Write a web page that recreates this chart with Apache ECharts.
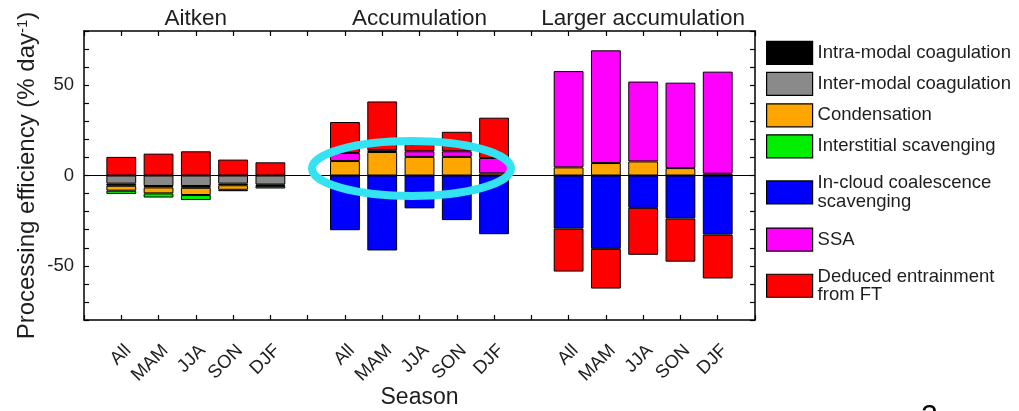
<!DOCTYPE html>
<html>
<head>
<meta charset="utf-8">
<script src="https://cdn.jsdelivr.net/npm/echarts@6/dist/echarts.min.js"></script>
<style>
html,body{margin:0;padding:0;background:#fff;}
#c{width:1019px;height:411px;}
</style>
</head>
<body>
<div id="c"></div>
<script>
// ---- data ----
const seasons = ['All', 'MAM', 'JJA', 'SON', 'DJF'];
const modes = ['Aitken', 'Accumulation', 'Larger accumulation'];
// rows: Aitken, Accumulation, Larger accumulation ; columns: seasons
const interModal   = [[-4.5, -5.8, -5.8, -4.5, -5.0], [null, null, null, null, null], [null, null, null, null, null]];
const intraModal   = [[-1.2, -0.8, -1.0, -0.9, -0.6], [null, null, null, null, null], [null, null, null, null, null]];
const condensation = [[-2.7, -3.3, -4.0, -2.5, -0.3], [8.0, 13.0, 10.3, 10.3, 1.2], [4.5, 6.9, 7.8, 4.1, 1.0]];
const interstitial = [[-1.8, -2.3, -2.8, -0.8, -1.3], [null, null, null, null, null], [null, null, null, null, null]];
const inCloud      = [[null, null, null, null, null], [-30.3, -41.5, -18.2, -24.7, -32.5], [-29.4, -40.6, -17.9, -23.8, -32.7]];
const ssa          = [[null, null, null, null, null], [4.5, 1.0, 3.1, 3.1, 8.5], [53.3, 62.4, 44.2, 47.3, 56.5]];
const entrainment  = [[10.3, 12.1, 13.4, 8.8, 7.3], [17.1, 27.0, 4.6, 10.8, 22.3], [-23.8, -22.0, -26.0, -23.9, -24.3]];
const yTickLabels = [-50, 0, 50];

// ---- build categories (gap slot before each mode, one at the end) ----
const categories = [];
modes.forEach((m, i) => {
  categories.push('gap' + i);
  seasons.forEach(s => categories.push(m + '|' + s));
});
categories.push('gapEnd');

function expand(rows) {
  const out = [];
  rows.forEach(r => { out.push(null); r.forEach(v => out.push(v)); });
  out.push(null);
  return out;
}

const FONT = 'Liberation Sans, Arial, Helvetica, sans-serif';
const TXT = '#1e1e1e';

const seriesDefs = [
  { name: 'Inter-modal coagulation', data: interModal, color: '#8a8a8a' },
  { name: 'Intra-modal coagulation', data: intraModal, color: '#000000' },
  { name: 'Condensation', data: condensation, color: '#ffa500' },
  { name: 'Interstitial scavenging', data: interstitial, color: '#00ee00' },
  { name: 'In-cloud coalescence\nscavenging', data: inCloud, color: '#0000ff' },
  { name: 'SSA', data: ssa, color: '#ff00ff' },
  { name: 'Deduced entrainment\nfrom FT', data: entrainment, color: '#ff0000' }
];

const series = seriesDefs.map((d, i) => {
  const s = {
    name: d.name,
    type: 'bar',
    stack: 'total',
    barWidth: '80%',
    data: expand(d.data),
    itemStyle: { color: d.color, borderColor: '#000', borderWidth: 1 },
    emphasis: { disabled: true },
    silent: true
  };
  if (i === 0) {
    s.markLine = {
      silent: true, symbol: ['none', 'none'],
      label: { show: false },
      lineStyle: { color: '#000', width: 1, type: 'solid' },
      data: [{ yAxis: 0 }],
      animation: false
    };
  }
  return s;
});

const legendLayout = [
  { name: 'Intra-modal coagulation', top: 40.8 },
  { name: 'Inter-modal coagulation', top: 71.8 },
  { name: 'Condensation', top: 103.2 },
  { name: 'Interstitial scavenging', top: 134.2 },
  { name: 'In-cloud coalescence\nscavenging', top: 173.7 },
  { name: 'SSA', top: 227.5 },
  { name: 'Deduced entrainment\nfrom FT', top: 267 }
];

const legends = legendLayout.map(l => ({
  data: [l.name],
  orient: 'vertical',
  left: 766,
  top: l.top,
  padding: 0,
  itemWidth: 46,
  itemHeight: 23,
  icon: 'rect',
  selectedMode: false,
  itemStyle: { borderColor: '#000', borderWidth: 1.2 },
  textStyle: { fontFamily: FONT, fontSize: 18.5, color: TXT, lineHeight: 18.5 }
}));

const chart = echarts.init(document.getElementById('c'), null, { renderer: 'canvas' });
chart.setOption({
  animation: false,
  backgroundColor: '#fff',
  grid: { left: 84, right: 264, top: 31, bottom: 91, containLabel: false, outerBoundsMode: 'none' },
  legend: legends,
  xAxis: [
    {
      type: 'category', data: categories, boundaryGap: false, position: 'bottom',
      name: 'Season', nameLocation: 'middle', nameGap: 66.5, nameMoveOverlap: false,
      nameTextStyle: { fontFamily: FONT, fontSize: 23, color: TXT },
      axisLine: { onZero: false, lineStyle: { color: '#000', width: 1.5 } },
      axisTick: { show: true, inside: true, length: 5, interval: 0, lineStyle: { color: '#000', width: 1.2 } },
      axisLabel: {
        interval: 0, rotate: 45, margin: 21, align: 'right', verticalAlign: 'top',
        fontFamily: FONT, fontSize: 18.5, color: TXT,
        formatter: v => (v.indexOf('|') >= 0 ? v.split('|')[1] : '')
      },
      splitLine: { show: false }
    },
    {
      type: 'category', data: categories, boundaryGap: false, position: 'top',
      axisLine: { onZero: false, lineStyle: { color: '#000', width: 1.5 } },
      axisTick: { show: true, inside: true, length: 5, interval: 0, lineStyle: { color: '#000', width: 1.2 } },
      axisLabel: {
        interval: 0, margin: 0.5, fontFamily: FONT, fontSize: 22.5, color: TXT,
        formatter: v => (v.indexOf('|JJA') >= 0 ? v.split('|')[0] : '')
      },
      splitLine: { show: false }
    }
  ],
  yAxis: [
    {
      type: 'value', min: -80, max: 80, interval: 10, position: 'left',
      name: '{a|Processing efficiency (% day}{s|-1}{a|)}',
      nameLocation: 'middle', nameGap: 44, nameRotate: 90, nameMoveOverlap: false,
      nameTextStyle: {
        rich: {
          a: { fontFamily: FONT, fontSize: 24, color: TXT },
          s: { fontFamily: FONT, fontSize: 15, color: TXT, verticalAlign: 'top', padding: [0, 0, 10, 0] }
        }
      },
      axisLine: { show: true, onZero: false, lineStyle: { color: '#000', width: 1.5 } },
      axisTick: { show: true, inside: true, length: 5, lineStyle: { color: '#000', width: 1.2 } },
      axisLabel: {
        margin: 10, fontFamily: FONT, fontSize: 18.5, color: TXT,
        formatter: v => (yTickLabels.indexOf(v) >= 0 ? String(v) : '')
      },
      splitLine: { show: false }
    },
    {
      type: 'value', min: -80, max: 80, interval: 10, position: 'right',
      axisLine: { show: true, onZero: false, lineStyle: { color: '#000', width: 1.5 } },
      axisTick: { show: true, inside: true, length: 5, lineStyle: { color: '#000', width: 1.2 } },
      axisLabel: { show: false },
      splitLine: { show: false }
    }
  ],
  series: series,
  graphic: [
    {
      type: 'ellipse', z: 100, silent: true,
      shape: { cx: 411.5, cy: 168.5, rx: 99.5, ry: 27.5 },
      style: { fill: 'transparent', stroke: '#33e3f1', lineWidth: 8 }
    },
    {
      type: 'text', z: 100, silent: true, left: 921, top: 402,
      style: { text: '2', fontFamily: FONT, fontSize: 30, fill: '#000' }
    }
  ]
});
</script>
</body>
</html>
